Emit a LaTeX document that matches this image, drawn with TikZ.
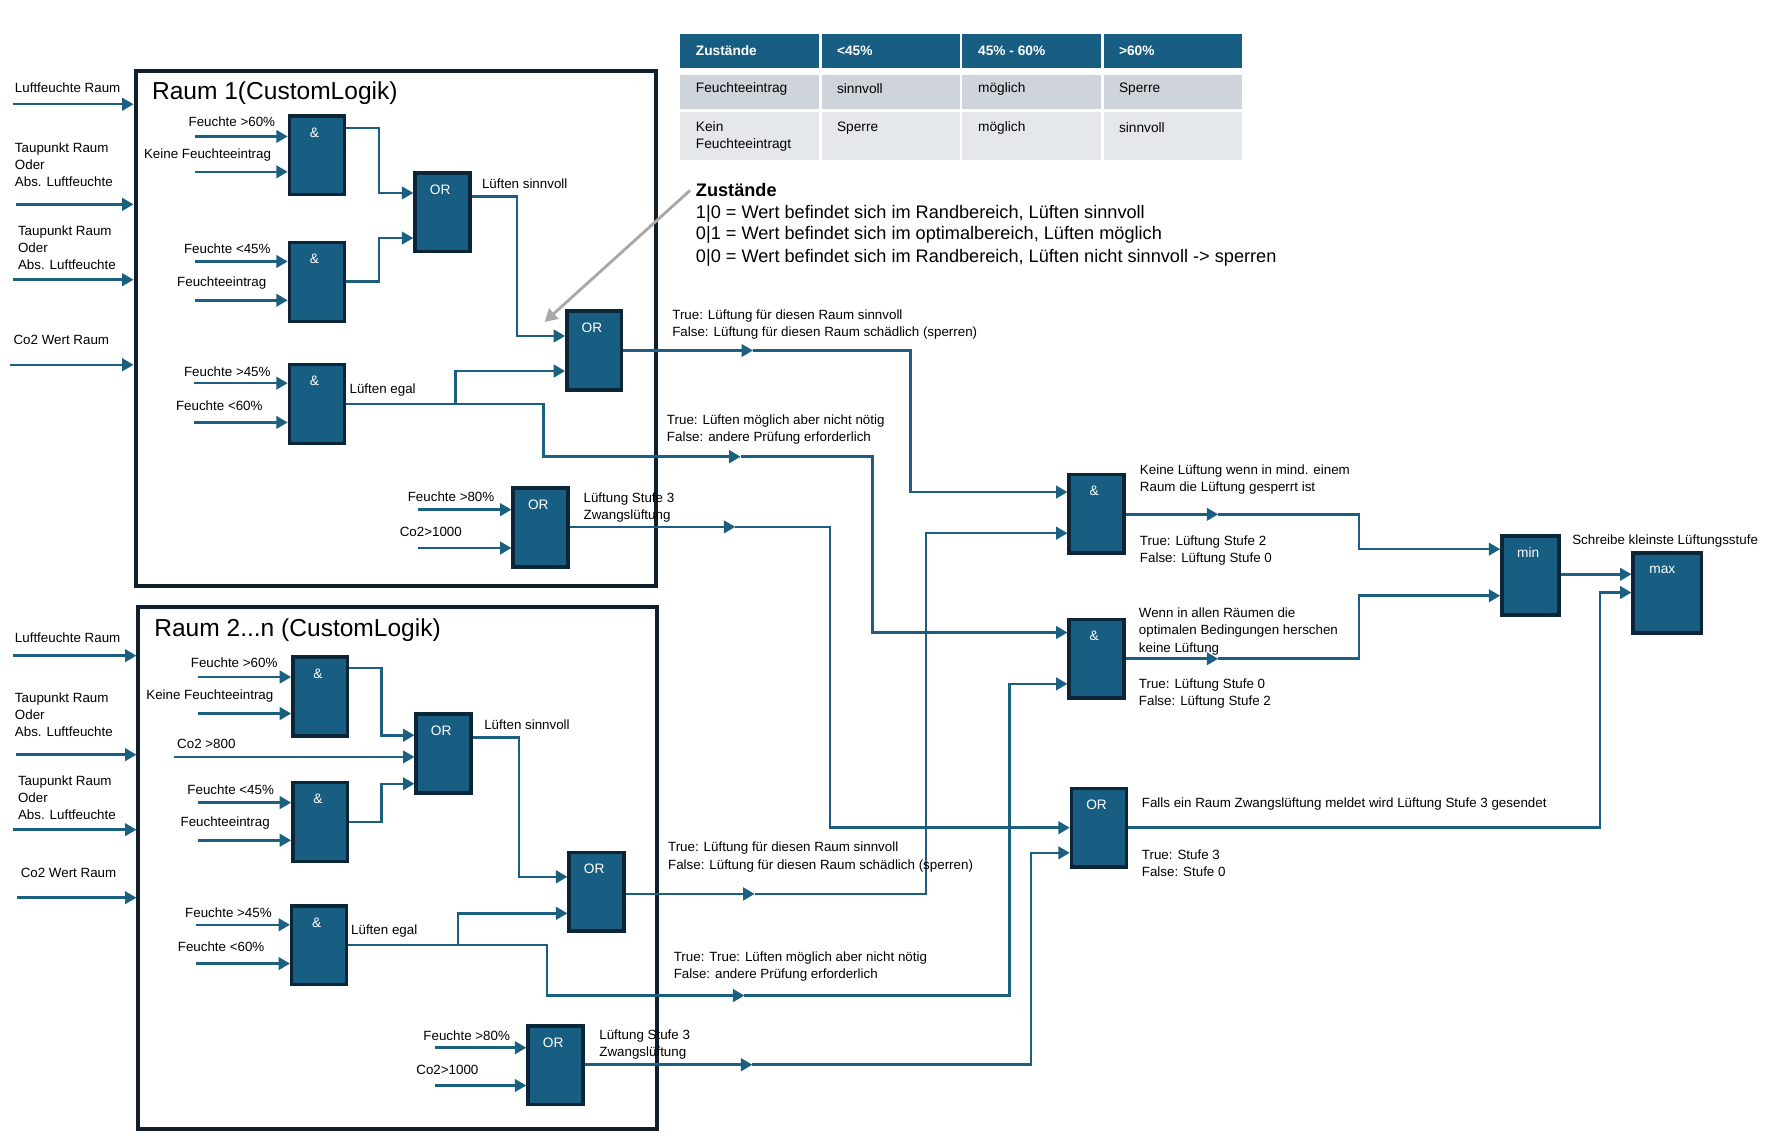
\documentclass[tikz,border=0pt]{standalone}
\usepackage{fontspec}
\setmainfont{Liberation Sans}
\usetikzlibrary{arrows.meta}

\definecolor{gatefill}{HTML}{175E82}
\definecolor{gateedge}{HTML}{0C2638}
\definecolor{wirecol}{HTML}{1B5F81}
\definecolor{roomedge}{HTML}{0F1F2B}
\definecolor{rowdark}{HTML}{CFD4DA}
\definecolor{rowlight}{HTML}{E5E8EB}
\definecolor{hintgrey}{HTML}{A8A8A8}

\newcommand{\lblsize}{\fontsize{11.7}{15}\selectfont}
\newcommand{\bigsize}{\fontsize{15.9}{19.6}\selectfont}

\begin{document}
\begin{tikzpicture}[x=1pt,y=-1pt,
    gate/.style={draw=gateedge, line width=3pt, fill=gatefill, minimum width=48pt,
      minimum height=69pt, inner sep=0pt, anchor=north west},
    gtxt/.style={anchor=center, yshift=-16pt, xshift=-2pt, text=white,
      font=\fontsize{12}{14}\selectfont},
    wire/.style={draw=wirecol, line width=2.2pt},
    arr/.style={wire, -{Triangle[length=10pt,width=11pt]}},
    hint/.style={draw=hintgrey, line width=2.5pt, -{Triangle[length=11pt,width=12pt]}},
    lbl/.style={anchor=west, inner sep=0pt, align=left, font=\lblsize},
    room/.style={draw=roomedge, line width=3.5pt, inner sep=0pt, anchor=north west},
    cell/.style={anchor=west, inner sep=0pt, align=left, font=\fontsize{12}{15}\selectfont},
    hcell/.style={cell, text=white, font=\bfseries\fontsize{12}{15}\selectfont}]

  \useasboundingbox (0,0) rectangle (1560,1002);

  % Room frames
  \node[room, minimum width=456pt, minimum height=451.5pt] (room1) at (117,60) {};
  \node[room, minimum width=454pt, minimum height=457.5pt] (room2) at (119.5,530) {};
  \node[anchor=west, inner sep=0pt, font=\fontsize{21.5}{26}\selectfont] (title1) at (133,82) {Raum 1(CustomLogik)};
  \node[anchor=west, inner sep=0pt, font=\fontsize{21.5}{26}\selectfont] (title2) at (135,552) {Raum 2...n (CustomLogik)};

  % Table of states
  \foreach \x in {595.6,719.6,843,966.7} {
    \fill[gatefill] (\x,30.2) rectangle +(121.5,29.5);
    \fill[rowdark] (\x,66) rectangle +(121.5,29.7);
    \fill[rowlight] (\x,98) rectangle +(121.5,42);
  }
  \node[hcell] (th1) at (609.4,44.3) {Zustände};
  \node[hcell] (th2) at (733,44.3) {<45\%};
  \node[hcell] (th3) at (856.6,44.3) {45\% - 60\%};
  \node[hcell] (th4) at (980,44.3) {>60\%};
  \node[cell] (ta1) at (609.4,77.9) {Feuchteeintrag};
  \node[cell] (ta2) at (733,77.9) {sinnvoll};
  \node[cell] (ta3) at (856.6,77.9) {möglich};
  \node[cell] (ta4) at (980,77.9) {Sperre};
  \node[cell] (tb1) at (609.4,119.3) {Kein\\Feuchteeintragt};
  \node[cell] (tb2) at (733,111.8) {Sperre};
  \node[cell] (tb3) at (856.6,111.8) {möglich};
  \node[cell] (tb4) at (980,111.8) {sinnvoll};

  % Legend of states
  \node[anchor=west, inner sep=0pt, font=\bfseries\bigsize] (zhd) at (609.4,166.8) {Zustände};
  \node[anchor=west, inner sep=0pt, font=\bigsize] (z1) at (609.4,187) {1|0 = Wert befindet sich im Randbereich, Lüften sinnvoll};
  \node[anchor=west, inner sep=0pt, font=\bigsize] (z2) at (609.4,206) {0|1 = Wert befindet sich im optimalbereich, Lüften möglich};
  \node[anchor=west, inner sep=0pt, font=\bigsize] (z3) at (609.4,225.6) {0|0 = Wert befindet sich im Randbereich, Lüften nicht sinnvoll -> sperren};
  \coordinate (hinttip) at (477,282);
  \draw[hint] ([xshift=-5pt]zhd.west) -- (hinttip);

  % Gates room 1
  \node[gate, label={[gtxt]north:\&}] (r1a1) at (252,100) {};
  \node[gate, label={[gtxt]north:OR}] (r1o1) at (362,150) {};
  \node[gate, label={[gtxt]north:\&}] (r1a2) at (252,211) {};
  \node[gate, label={[gtxt]north:OR}] (r1o2) at (495,271) {};
  \node[gate, label={[gtxt]north:\&}] (r1a3) at (252,318) {};
  \node[gate, label={[gtxt]north:OR}] (r1o3) at (448,426) {};

  % Gates room 2
  \node[gate, label={[gtxt]north:\&}] (r2a1) at (255,574) {};
  \node[gate, label={[gtxt]north:OR}] (r2o1) at (363,624) {};
  \node[gate, label={[gtxt]north:\&}] (r2a2) at (255,684) {};
  \node[gate, label={[gtxt]north:OR}] (r2o2) at (497,745) {};
  \node[gate, label={[gtxt]north:\&}] (r2a3) at (254,792) {};
  \node[gate, label={[gtxt]north:OR}] (r2o3) at (461,897) {};

  % Gates collecting all rooms
  \node[gate, label={[gtxt]north:\&}] (and4) at (935,414) {};
  \node[gate, label={[gtxt]north:\&}] (and5) at (935,541) {};
  \node[gate, label={[gtxt]north:OR}] (or4) at (937,689) {};
  \node[gate, minimum width=50pt, label={[gtxt]north:min}] (gmin) at (1314,468) {};
  \node[gate, minimum width=60pt, minimum height=70pt, label={[gtxt, xshift=-2.5pt]north:max}] (gmax) at (1429,483) {};

  % Start points of the inputs
  \foreach \n/\x/\y in {l1/11/91.3, l2/13.7/179, l3/11/245, l4/8.6/319.5,
      l5/11/574.3, l6/13.7/661, l7/11/726.7, l8/14.5/786.3,
      a1/171/119.5, b1/171/150.5, a2/171/229, b2/171/263,
      a3/170/335.6, b3/170/370, a4/366/446.4, b4/366/480,
      c1/173/593, d1/173/625, e1/152/663, c2/173/703, d2/173/736,
      c3/172/810, d3/172/844, c4/381/917.7, d4/381/950.8}
    \coordinate (\n) at (\x,\y);

  % Arrow heads half way on the long lines
  \foreach \n/\x/\y in {m1/659.5/307, m2/648.7/400, m3/644/461.5,
      m4/661/783, m5/652/872, m6/659/932.6, m7/1067/450.5, m8/1067/577}
    \coordinate (\n) at (\x,\y);

  % Inputs into the rooms
  \foreach \n in {l1,l2,l3,l4}
    \draw[arr] (\n) -- (\n -| room1.west);
  \foreach \n in {l5,l6,l7,l8}
    \draw[arr] (\n) -- (\n -| room2.west);

  % Inputs into the gates
  \foreach \n/\g in {a1/r1a1, b1/r1a1, a2/r1a2, b2/r1a2, a3/r1a3, b3/r1a3, a4/r1o3, b4/r1o3,
      c1/r2a1, d1/r2a1, e1/r2o1, c2/r2a2, d2/r2a2, c3/r2a3, d3/r2a3, c4/r2o3, d4/r2o3}
    \draw[arr] (\n) -- (\n -| \g.west);

  % Wires room 1
  \draw[arr] (r1a1.east |- 0,112) -| (332,169) -- (r1o1.west |- 0,169);
  \draw[arr] (r1a2.east |- 0,246.7) -| (332,208.5) -- (r1o1.west |- 0,208.5);
  \draw[arr] (r1o1.east |- 0,172) -| (453,294.3) -- (r1o2.west |- 0,294.3);
  \draw[arr] (r1a3.east |- 0,354) -| (399,325) -- (r1o2.west |- 0,325);
  \draw[arr] (r1a3.east |- 0,354) -- (476,354) |- (m2);
  \draw[arr] (r1o2.east |- 0,307) -- (m1);
  \draw[arr] (r1o3.east |- 0,461.5) -- (m3);
  \draw[arr] (m1) -| (797.7,431) -- (and4.west |- 0,431);
  \draw[arr] (m2) -| (764,554) -- (and5.west |- 0,554);
  \draw[arr] (m3) -| (727,725) -- (or4.west |- 0,725);

  % Wires room 2
  \draw[arr] (r2a1.east |- 0,585) -| (334,644) -- (r2o1.west |- 0,644);
  \draw[arr] (r2a2.east |- 0,720) -| (334,686.5) -- (r2o1.west |- 0,686.5);
  \draw[arr] (r2o1.east |- 0,646) -| (454.5,768) -- (r2o2.west |- 0,768);
  \draw[arr] (r2a3.east |- 0,827.6) -| (401,800) -- (r2o2.west |- 0,800);
  \draw[arr] (r2a3.east |- 0,827.6) -- (479,827.6) |- (m5);
  \draw[arr] (r2o2.east |- 0,783) -- (m4);
  \draw[arr] (r2o3.east |- 0,932.6) -- (m6);
  \draw[arr] (m4) -| (811,467) -- (and4.west |- 0,467);
  \draw[arr] (m5) -| (884,599) -- (and5.west |- 0,599);
  \draw[arr] (m6) -| (903,747) -- (or4.west |- 0,747);

  % Wires to min and max
  \draw[arr] (and4.east |- 0,450.5) -- (m7);
  \draw[arr] (and5.east |- 0,577) -- (m8);
  \draw[arr] (m7) -| (1190.5,481) -- (gmin.west |- 0,481);
  \draw[arr] (m8) -| (1190.5,521.8) -- (gmin.west |- 0,521.8);
  \draw[arr] (or4.east |- 0,725) -| (1401.6,519) -- (gmax.west |- 0,519);
  \draw[arr] (gmin.east |- 0,503) -- (gmax.west |- 0,503);

  % Labels left of the rooms
  \node[lbl] (in1) at (12.9,76.5) {Luftfeuchte Raum};
  \node[lbl] (in2) at (12.9,144.2) {Taupunkt Raum\\Oder\\Abs. Luftfeuchte};
  \node[lbl] (in3) at (15.6,217) {Taupunkt Raum\\Oder\\Abs. Luftfeuchte};
  \node[lbl] (in4) at (11.7,297.7) {Co2 Wert Raum};
  \node[lbl] (in5) at (12.9,558.5) {Luftfeuchte Raum};
  \node[lbl] (in6) at (12.9,626) {Taupunkt Raum\\Oder\\Abs. Luftfeuchte};
  \node[lbl] (in7) at (15.6,698.7) {Taupunkt Raum\\Oder\\Abs. Luftfeuchte};
  \node[lbl] (in8) at (18,764.4) {Co2 Wert Raum};

  % Labels room 1
  \node[lbl] (p1) at (165,106.7) {Feuchte >60\%};
  \node[lbl] (p2) at (126,136) {Keine Feuchteeintrag};
  \node[lbl] (p3) at (161,218) {Feuchte <45\%};
  \node[lbl] (p4) at (155,248) {Feuchteeintrag};
  \node[lbl] (p5) at (161,326) {Feuchte >45\%};
  \node[lbl] (p6) at (154,355.4) {Feuchte <60\%};
  \node[lbl] (p7) at (422,161) {Lüften sinnvoll};
  \node[lbl] (p8) at (306,341.7) {Lüften egal};
  \node[lbl] (p9) at (357,435) {Feuchte >80\%};
  \node[lbl] (p10) at (350,466) {Co2>1000};
  \node[lbl] (p11) at (511,444.5) {Lüftung Stufe 3\\Zwangslüftung};
  \node[lbl] (p12) at (588.7,284.3) {True: Lüftung für diesen Raum sinnvoll\\False: Lüftung für diesen Raum schädlich (sperren)};
  \node[lbl] (p13) at (584,376.2) {True: Lüften möglich aber nicht nötig\\False: andere Prüfung erforderlich};

  % Labels room 2
  \node[lbl] (q1) at (167,580.5) {Feuchte >60\%};
  \node[lbl] (q2) at (128,609.4) {Keine Feuchteeintrag};
  \node[lbl] (q3) at (155,651.7) {Co2 >800};
  \node[lbl] (q4) at (164,692) {Feuchte <45\%};
  \node[lbl] (q5) at (158,721) {Feuchteeintrag};
  \node[lbl] (q6) at (424,635) {Lüften sinnvoll};
  \node[lbl] (q7) at (162,799.6) {Feuchte >45\%};
  \node[lbl] (q8) at (155.6,829) {Feuchte <60\%};
  \node[lbl] (q9) at (307.4,815.6) {Lüften egal};
  \node[lbl] (q10) at (370.7,907.4) {Feuchte >80\%};
  \node[lbl] (q11) at (364.5,936.8) {Co2>1000};
  \node[lbl] (q12) at (524.8,915.2) {Lüftung Stufe 3\\Zwangslüftung};
  \node[lbl] (q13) at (585,750.7) {True: Lüftung für diesen Raum sinnvoll\\False: Lüftung für diesen Raum schädlich (sperren)};
  \node[lbl] (q14) at (590,846.8) {True: True: Lüften möglich aber nicht nötig\\False: andere Prüfung erforderlich};

  % Labels of the collecting gates
  \node[lbl] (s1) at (998.3,420) {Keine Lüftung wenn in mind. einem\\Raum die Lüftung gesperrt ist};
  \node[lbl] (s2) at (998.3,481.9) {True: Lüftung Stufe 2\\False: Lüftung Stufe 0};
  \node[lbl] (s3) at (997.4,553.1) {Wenn in allen Räumen die\\optimalen Bedingungen herschen\\keine Lüftung};
  \node[lbl] (s4) at (997.4,607.1) {True: Lüftung Stufe 0\\False: Lüftung Stufe 2};
  \node[lbl] (s5) at (1000,704.6) {Falls ein Raum Zwangslüftung meldet wird Lüftung Stufe 3 gesendet};
  \node[lbl] (s6) at (1000,756) {True: Stufe 3\\False: Stufe 0};
  \node[lbl] (s7) at (1377,473.6) {Schreibe kleinste Lüftungsstufe};
\end{tikzpicture}
\end{document}
